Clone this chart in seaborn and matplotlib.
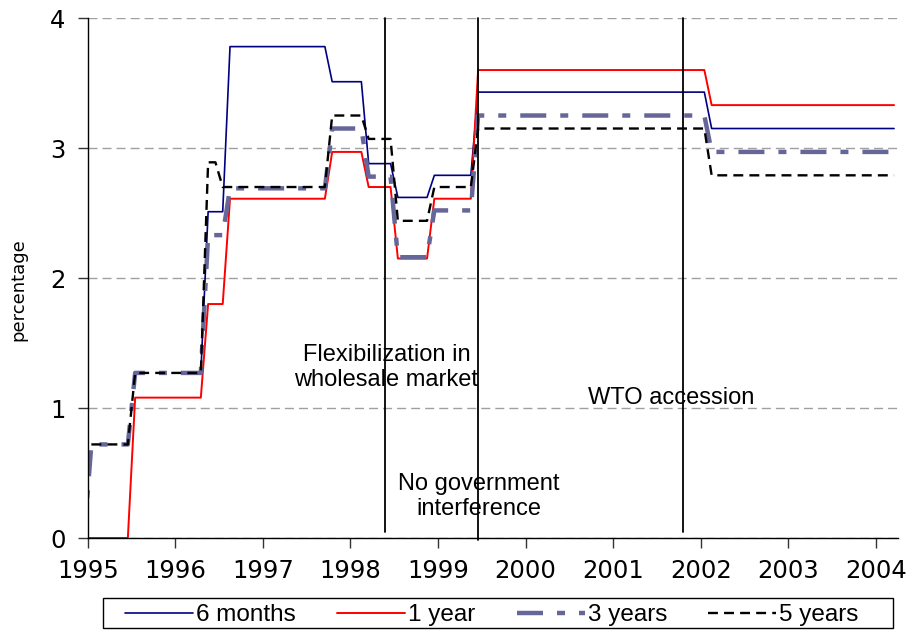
import numpy as np
import pandas as pd
import matplotlib
matplotlib.use('Agg')
import matplotlib.pyplot as plt
from matplotlib.patches import Rectangle
import seaborn as sb

# monthly points, Dec 1994 (m=-1) .. Mar 2004 (m=110), plotted mid-month
months = np.arange(-1, 111)
year = 1995 + (months + 0.5) / 12

# step levels (percentage) and how many months each level lasts
m6_levels = [np.nan, 1.27, 2.51, 3.78, 3.51, 2.88, 2.62, 2.79, 3.43, 3.15]
m6_spans = [16, 1, 3, 14, 5, 4, 5, 6, 32, 26]

y1_levels = [0.0, 1.08, 1.80, 2.61, 2.97, 2.70, 2.15, 2.61, 3.60, 3.33]
y1_spans = [7, 10, 3, 14, 5, 4, 5, 6, 32, 26]

y3_levels = [0.0, 0.72, 1.27, 2.33, 2.69, 3.15, 2.78, 2.16, 2.52, 3.25, 2.97]
y3_spans = [1, 6, 10, 3, 14, 5, 4, 5, 6, 32, 26]

y5_levels = [np.nan, 0.72, 1.27, 2.89, 2.70, 3.25, 3.07, 2.44, 2.70, 3.15, 2.79]
y5_spans = [1, 6, 10, 2, 15, 5, 4, 5, 6, 32, 26]

events = [1998.40, 1999.46, 2001.80]
event_bottom = [0.012, -0.004, 0.012]
year_ticks = list(range(1995, 2005))

df = pd.DataFrame({
    'year': year,
    '6 months': np.repeat(m6_levels, m6_spans),
    '1 year': np.repeat(y1_levels, y1_spans),
    '3 years': np.repeat(y3_levels, y3_spans),
    '5 years': np.repeat(y5_levels, y5_spans),
})

sb.set_style('white')
plt.rcParams['font.family'] = ['DejaVu Sans']
plt.rcParams['text.color'] = 'black'
plt.rcParams['axes.labelcolor'] = 'black'
plt.rcParams['xtick.color'] = 'black'
plt.rcParams['ytick.color'] = 'black'

fig, ax = plt.subplots(figsize=(9.09, 6.3), dpi=100)
fig.subplots_adjust(left=0.0965, right=0.9876, top=0.9714, bottom=0.146)

styles = {
    '6 months': dict(color='#000080', linewidth=1.2, linestyle='-'),
    '1 year': dict(color='#FF0000', linewidth=1.4, linestyle='-'),
    '3 years': dict(color='#666699', linewidth=3.2, linestyle=(0, (5.85, 3.15, 1.8, 3.15))),
    '5 years': dict(color='black', linewidth=1.7, linestyle=(0, (4.2, 2.6))),
}
for name, st in styles.items():
    d = df[['year', name]].dropna()
    sb.lineplot(x=d['year'], y=d[name], ax=ax, label=name, **st)

if ax.get_legend():
    ax.get_legend().remove()

for ev, yb in zip(events, event_bottom):
    ax.axvline(ev, ymin=yb, ymax=1, color='black', linewidth=1.3, clip_on=False)

txt = dict(family='Liberation Sans', fontsize=17, ha='center', va='center',
           linespacing=1.2, color='black')
ax.text(1998.41, 1.31, 'Flexibilization in\nwholesale market', **txt)
ax.text(1999.47, 0.32, 'No government\ninterference', **txt)
ax.text(2001.66, 1.08, 'WTO accession', **txt)

ax.set_xlim(1995, 2004.25)
ax.set_ylim(0, 4)
ax.set_xticks(year_ticks)
ax.set_yticks([0, 1, 2, 3, 4])
ax.tick_params(axis='both', labelsize=17.5, length=7, width=1, direction='out',
               color='#333333', bottom=True, left=True)
ax.tick_params(axis='x', pad=8)
ax.tick_params(axis='y', pad=9)
ax.yaxis.grid(True, color='#a0a0a0', linestyle=(0, (6.5, 3.6)), linewidth=1)
ax.set_axisbelow(True)
sb.despine(ax=ax)
for s in ['left', 'bottom']:
    ax.spines[s].set_color('black')
    ax.spines[s].set_linewidth(1)

ax.set_xlabel('')
ax.set_ylabel('percentage', fontsize=13)
ax.yaxis.set_label_coords(-0.074, 0.477)

handles, labels = ax.get_legend_handles_labels()
leg = fig.legend(handles, labels, loc='center left', ncol=4,
                 bbox_to_anchor=(125 / 909, 1 - 615 / 630),
                 prop={'family': 'Liberation Sans', 'size': 17.5},
                 frameon=False, borderpad=0, handlelength=2.8,
                 handletextpad=0.12, columnspacing=1.7, borderaxespad=0)
fig.patches.append(Rectangle((103 / 909, 2 / 630), 790 / 909, 30 / 630,
                             transform=fig.transFigure, fill=False,
                             edgecolor='black', linewidth=1))

fig.savefig('out.png', dpi=100)
